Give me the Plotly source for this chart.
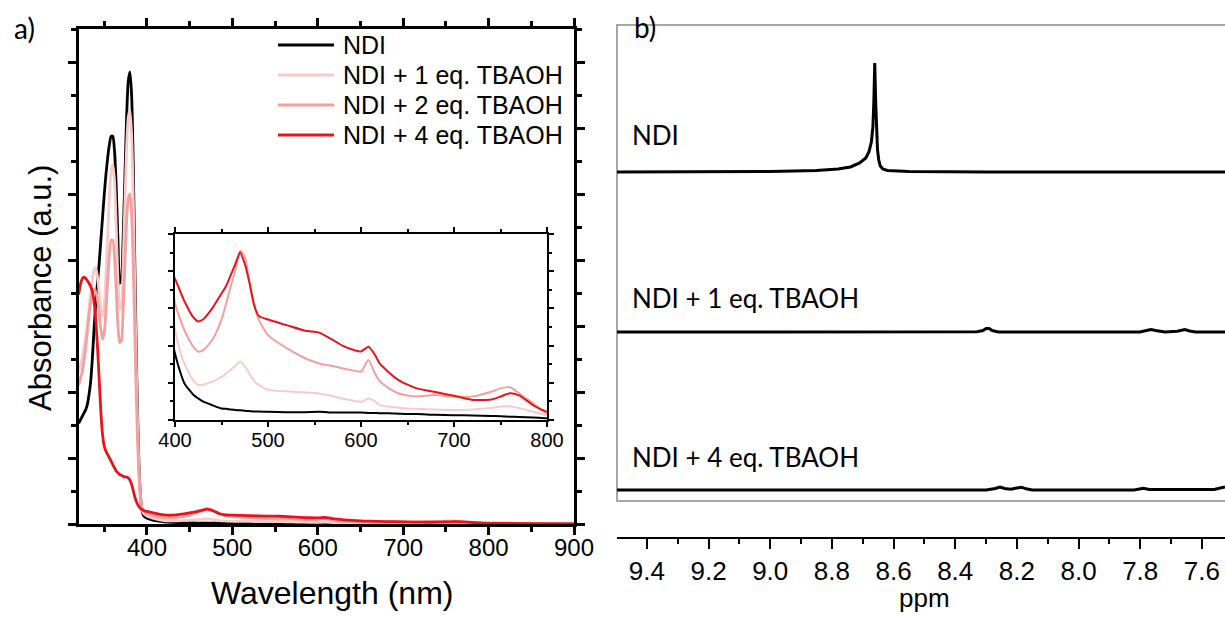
import plotly.graph_objects as go

# ---------------------------------------------------------------------------
# Data — UV-vis absorbance (a.u.)
# ---------------------------------------------------------------------------

WAVELENGTH = [
    320, 322, 324, 326, 328, 330, 332, 334, 336, 338,
    340, 342, 344, 346, 348, 350, 352, 354, 356, 358,
    360, 362, 364, 366, 368, 370, 372, 374, 376, 378,
    380, 382, 384, 386, 388, 390, 392, 394, 396, 398,
    400, 405, 410, 420, 425, 430, 440, 450, 455, 460,
    465, 470, 475, 480, 485, 490, 500, 520, 540, 555,
    570, 580, 590, 600, 608, 615, 620, 630, 640, 650,
    660, 680, 700, 720, 740, 750, 760, 770, 785, 800,
    850, 900,
]

ABS_NDI = [
    3.05, 3.15, 3.25, 3.35, 3.45, 3.6, 3.9, 4.3, 5.0, 5.9,
    6.7, 7.3, 7.9, 8.6, 9.3, 10.0, 10.6, 11.1, 11.5, 11.75,
    11.75, 11.3, 10.2, 8.6, 7.3, 7.4, 8.6, 10.4, 12.2, 13.4,
    13.7, 13.0, 10.8, 7.5, 4.5, 2.3, 1.0, 0.45, 0.25, 0.2,
    0.179, 0.134, 0.099, 0.067, 0.058, 0.05, 0.04, 0.031, 0.03, 0.028,
    0.027, 0.026, 0.025, 0.024, 0.023, 0.023, 0.022, 0.021, 0.021, 0.022,
    0.02, 0.02, 0.02, 0.02, 0.019, 0.019, 0.018, 0.018, 0.017, 0.016,
    0.016, 0.014, 0.013, 0.012, 0.011, 0.01, 0.009, 0.008, 0.007, 0.005,
    0.003, 0.002,
]

ABS_1EQ = [
    4.6, 4.8, 5.0, 5.3, 5.6, 6.0, 6.5, 7.0, 7.4, 7.7,
    7.75, 7.5, 7.0, 6.5, 6.3, 6.6, 7.6, 8.8, 9.9, 10.7,
    10.9, 10.4, 9.0, 7.4, 6.5, 6.6, 7.8, 9.6, 11.3, 12.3,
    12.55, 11.8, 9.8, 6.8, 4.1, 2.1, 0.95, 0.45, 0.32, 0.28,
    0.242, 0.19, 0.152, 0.105, 0.094, 0.095, 0.103, 0.116, 0.125, 0.135,
    0.146, 0.157, 0.145, 0.125, 0.105, 0.094, 0.081, 0.077, 0.074, 0.071,
    0.064, 0.058, 0.053, 0.049, 0.058, 0.05, 0.04, 0.036, 0.033, 0.031,
    0.03, 0.028, 0.027, 0.028, 0.032, 0.036, 0.037, 0.032, 0.022, 0.013,
    0.006, 0.003,
]

ABS_2EQ = [
    4.2, 4.4, 4.6, 4.9, 5.3, 5.8, 6.3, 6.7, 7.0, 7.1,
    7.05, 6.8, 6.4, 5.9, 5.6, 5.8, 6.5, 7.4, 8.2, 8.6,
    8.6, 8.1, 7.1, 6.0, 5.5, 5.55, 6.4, 7.8, 9.1, 9.85,
    10.0, 9.4, 7.8, 5.5, 3.4, 1.8, 0.9, 0.5, 0.4, 0.35,
    0.313, 0.275, 0.242, 0.196, 0.184, 0.187, 0.215, 0.27, 0.313, 0.36,
    0.403, 0.455, 0.44, 0.37, 0.31, 0.27, 0.228, 0.193, 0.166, 0.152,
    0.145, 0.139, 0.134, 0.13, 0.161, 0.125, 0.105, 0.085, 0.072, 0.066,
    0.063, 0.067, 0.063, 0.063, 0.076, 0.085, 0.088, 0.072, 0.045, 0.018,
    0.008, 0.004,
]

ABS_4EQ = [
    6.95, 7.25, 7.42, 7.48, 7.45, 7.38, 7.3, 7.2, 7.05, 6.75,
    6.2, 5.4, 4.4, 3.4, 2.7, 2.35, 2.2, 2.1, 2.0, 1.9,
    1.8, 1.7, 1.6, 1.55, 1.5, 1.48, 1.45, 1.43, 1.42, 1.4,
    1.33, 1.2, 1.0, 0.8, 0.65, 0.55, 0.48, 0.44, 0.41, 0.39,
    0.38, 0.35, 0.32, 0.275, 0.265, 0.27, 0.3, 0.34, 0.36, 0.39,
    0.42, 0.45, 0.42, 0.37, 0.31, 0.28, 0.27, 0.255, 0.24, 0.235,
    0.215, 0.2, 0.19, 0.184, 0.197, 0.175, 0.152, 0.128, 0.108, 0.095,
    0.085, 0.075, 0.065, 0.054, 0.055, 0.063, 0.072, 0.066, 0.04, 0.022,
    0.01, 0.005,
]

SERIES_NAMES = ["NDI", "NDI + 1 eq. TBAOH", "NDI + 2 eq. TBAOH", "NDI + 4 eq. TBAOH"]
SERIES_COLORS = ["#000000", "#f9caca", "#f2a0a0", "#e8141b"]

X_TICKS_MAIN = [400, 500, 600, 700, 800, 900]
X_TICKS_INSET = [400, 500, 600, 700, 800]

# ---------------------------------------------------------------------------
# Data — 1H NMR, intensity above each baseline (arbitrary units)
# ---------------------------------------------------------------------------

PPM_NDI = [9.50, 9.00, 8.85, 8.78, 8.74, 8.71, 8.69, 8.68, 8.672, 8.667,
           8.664, 8.661, 8.658, 8.655, 8.652, 8.648, 8.643, 8.635, 8.62, 8.55,
           8.30, 7.525]
INT_NDI = [0, 0.5, 1.5, 3, 5, 9, 14, 20, 30, 45,
           70, 109, 70, 40, 22, 12, 6, 3, 1.5, 0.5,
           0, 0]

PPM_1EQ = [9.50, 8.40, 8.33, 8.31, 8.30, 8.29, 8.28, 8.26, 7.80, 7.78,
           7.765, 7.75, 7.72, 7.68, 7.655, 7.64, 7.62, 7.525]
INT_1EQ = [0, 0, 0.3, 1.5, 3.5, 3.5, 1.5, 0, 0, 1.5,
           2.5, 1.5, 0, 0.8, 2.5, 1, 0, 0]

PPM_4EQ = [9.50, 8.30, 8.27, 8.255, 8.24, 8.22, 8.20, 8.185, 8.17, 8.15,
           7.82, 7.80, 7.79, 7.77, 7.60, 7.56, 7.54, 7.525]
INT_4EQ = [0, 0, 1.5, 3, 1.5, 0.8, 2, 2.8, 1.2, 0,
           0, 1.5, 1.8, 0.5, 0, 0.5, 2, 3]

NMR_LABELS = ["NDI", "NDI + 1 eq. TBAOH", "NDI + 4 eq. TBAOH"]
PPM_TICKS = [9.4, 9.2, 9.0, 8.8, 8.6, 8.4, 8.2, 8.0, 7.8, 7.6]

# ---------------------------------------------------------------------------
# Layout constants (pixels of the 1225 x 617 canvas)
# ---------------------------------------------------------------------------

W, H = 1225, 617
NMR_OFFSETS = [365, 205, 47]      # baselines in the right panel's y units
LEGEND_ROWS = [45, 75, 105, 135]  # legend row centres, px from top
SANS = "Liberation Sans, Arial, sans-serif"
CAL = "Lato, Open Sans, sans-serif"


def px_x(x):
    return x / W


def px_y(y):
    return 1 - y / H


def build_figure():
    fig = go.Figure()

    spectra = [ABS_NDI, ABS_1EQ, ABS_2EQ, ABS_4EQ]

    # Main UV-vis panel
    for name, color, ys in zip(SERIES_NAMES, SERIES_COLORS, spectra):
        fig.add_trace(go.Scatter(
            x=WAVELENGTH, y=ys, name=name, mode="lines", showlegend=False,
            line=dict(color=color, width=2.8, shape="spline", smoothing=0.6),
            xaxis="x", yaxis="y",
        ))

    # Inset, same data zoomed in
    for name, color, ys in zip(SERIES_NAMES, SERIES_COLORS, spectra):
        fig.add_trace(go.Scatter(
            x=WAVELENGTH, y=ys, name=name, mode="lines", showlegend=False,
            line=dict(color=color, width=2, shape="spline", smoothing=0.6),
            xaxis="x2", yaxis="y2",
        ))

    # NMR stack
    for ppm, inten, off in zip([PPM_NDI, PPM_1EQ, PPM_4EQ],
                               [INT_NDI, INT_1EQ, INT_4EQ], NMR_OFFSETS):
        fig.add_trace(go.Scatter(
            x=ppm, y=[v + off for v in inten], mode="lines", showlegend=False,
            line=dict(color="#000000", width=3),
            xaxis="x3", yaxis="y3",
        ))

    box_axis = dict(
        showline=True, linecolor="black", linewidth=2.5, mirror="ticks",
        ticks="outside", tickcolor="black", tickwidth=2.5, ticklen=8,
        showgrid=False, zeroline=False, automargin=False,
    )

    fig.update_layout(
        template="none",
        width=W, height=H,
        margin=dict(l=0, r=0, t=0, b=0, pad=0),
        paper_bgcolor="white", plot_bgcolor="white",
        font=dict(family=SANS, color="black"),
        showlegend=False,
        xaxis=dict(
            **box_axis,
            domain=[px_x(79), px_x(574)], range=[320.4, 900],
            tickvals=X_TICKS_MAIN, tickfont=dict(size=24),
            ticklabelstandoff=-8,
            minor=dict(dtick=50, tick0=0, ticks="outside", ticklen=5,
                       tickwidth=2.5, tickcolor="black"),
        ),
        yaxis=dict(
            **box_axis,
            domain=[px_y(524), px_y(29)], range=[0, 15],
            dtick=2, tick0=0, showticklabels=False,
            minor=dict(dtick=1, tick0=0, ticks="outside", ticklen=5,
                       tickwidth=2.5, tickcolor="black"),
        ),
        xaxis2=dict(
            **{**box_axis, "linewidth": 1.5, "tickwidth": 1.5, "ticklen": 5},
            anchor="y2",
            domain=[px_x(175), px_x(547)], range=[400, 800],
            tickvals=X_TICKS_INSET, tickfont=dict(size=20),
            ticklabelstandoff=-4,
            minor=dict(dtick=50, tick0=0, ticks="outside", ticklen=3,
                       tickwidth=1.5, tickcolor="black"),
        ),
        yaxis2=dict(
            **{**box_axis, "linewidth": 1.5, "tickwidth": 1.5, "ticklen": 5},
            anchor="x2",
            domain=[px_y(420), px_y(234)], range=[0, 0.5],
            dtick=0.1, tick0=0, showticklabels=False,
            minor=dict(dtick=0.05, tick0=0, ticks="outside", ticklen=3,
                       tickwidth=1.5, tickcolor="black"),
        ),
        xaxis3=dict(
            anchor="y3", automargin=False,
            domain=[px_x(617), 1.0], range=[9.497, 7.525],
            showline=True, linecolor="black", linewidth=1.5,
            ticks="outside", ticklen=10, tickwidth=1.5, tickcolor="black",
            tickvals=PPM_TICKS, ticktext=[f"{v:.1f}" for v in PPM_TICKS],
            tickfont=dict(size=26),
            minor=dict(dtick=0.1, tick0=0, ticks="outside", ticklen=5,
                       tickwidth=1.5, tickcolor="black"),
            showgrid=False, zeroline=False,
        ),
        yaxis3=dict(
            anchor="x3", automargin=False,
            domain=[px_y(537), px_y(25)], range=[0, 512],
            visible=False,
        ),
    )

    # grey frame around the NMR stack
    fig.add_shape(
        type="rect", xref="paper", yref="paper",
        x0=px_x(617), x1=1.02, y0=px_y(501), y1=px_y(25),
        line=dict(color="#a6a6a6", width=2), fillcolor="rgba(0,0,0,0)",
        layer="below",
    )

    # legend drawn by hand so the swatches match the original length/spacing
    annotations = []
    for name, color, row in zip(SERIES_NAMES, SERIES_COLORS, LEGEND_ROWS):
        fig.add_shape(
            type="line", xref="paper", yref="paper",
            x0=px_x(278), x1=px_x(334), y0=px_y(row), y1=px_y(row),
            line=dict(color=color, width=3),
        )
        annotations.append(dict(text=name, x=px_x(341), y=px_y(row),
                                xanchor="left", font=dict(family=SANS, size=25)))

    annotations += [
        dict(text="Wavelength (nm)", x=px_x(332), y=px_y(593),
             font=dict(family=SANS, size=32)),
        dict(text="Absorbance (a.u.)", x=px_x(40), y=px_y(288), textangle=-90,
             font=dict(family=SANS, size=31)),
        dict(text="ppm", x=px_x(925), y=px_y(598),
             font=dict(family=SANS, size=26)),
        dict(text="a)", x=px_x(24), y=px_y(28), font=dict(family=CAL, size=28)),
        dict(text="b)", x=px_x(645), y=px_y(27), font=dict(family=CAL, size=28)),
    ]
    for label, ypos in zip(NMR_LABELS, [135, 298, 457]):
        annotations.append(dict(text=label, x=px_x(630), y=px_y(ypos),
                                xanchor="left", font=dict(family=CAL, size=26)))

    for a in annotations:
        a.setdefault("xanchor", "center")
        a.update(xref="paper", yref="paper", yanchor="middle", showarrow=False)
    fig.update_layout(annotations=annotations)

    return fig


if __name__ == "__main__":
    fig = build_figure()
    # drop the browser's default 8px body margin so the canvas sits at 0,0
    fig.write_html(
        "out.html",
        config={"displayModeBar": False},
        post_script="document.body.style.margin='0';",
    )
